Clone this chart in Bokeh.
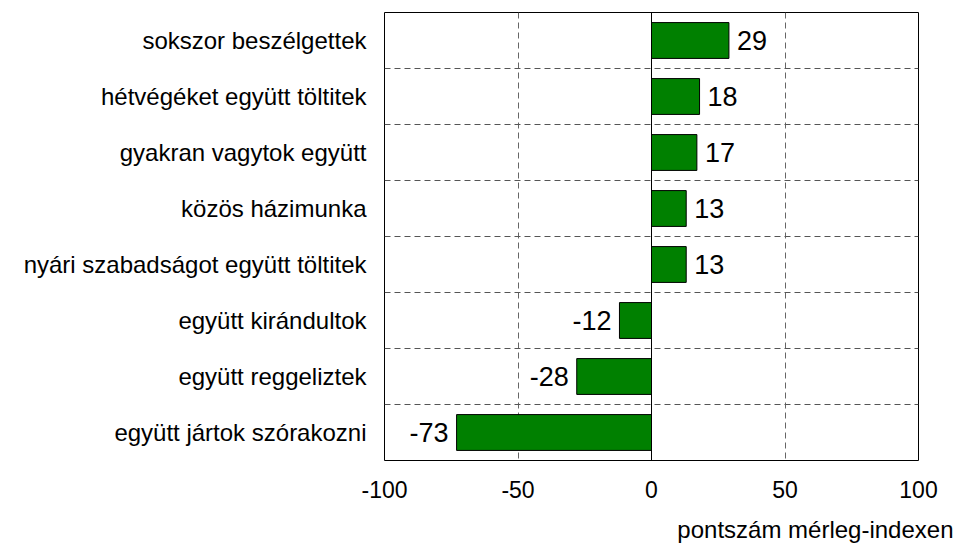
from bokeh.plotting import figure
from bokeh.models import Range1d, FixedTicker, Span, Title, ColumnDataSource
from bokeh.embed import file_html
from bokeh.resources import INLINE

categories = [
    "sokszor beszélgettek",
    "hétvégéket együtt töltitek",
    "gyakran vagytok együtt",
    "közös házimunka",
    "nyári szabadságot együtt töltitek",
    "együtt kirándultok",
    "együtt reggeliztek",
    "együtt jártok szórakozni",
]
values = [29, 18, 17, 13, 13, -12, -28, -73]
x_ticks = [-100, -50, 0, 50, 100]
x_tick_labels = ["-100", "-50", "0", "50", "100"]
axis_title = "pontszám mérleg-indexen"

FONT = "Liberation Sans"

pos = list(range(len(categories)))
src = ColumnDataSource(dict(
    y=pos, v=values, txt=[str(v) for v in values],
    align=["left" if v >= 0 else "right" for v in values],
    xoff=[8 if v >= 0 else -8 for v in values],
))

p = figure(width=958, height=555, output_backend="svg", toolbar_location=None,
           x_range=Range1d(-100, 100), y_range=Range1d(len(categories) - 0.5, -0.5),
           min_border_left=384, min_border_right=40, min_border_top=12, min_border_bottom=93)
p.outline_line_color = "black"
p.outline_line_width = 1
p.background_fill_color = "white"

p.hbar(y="y", left=0, right="v", height=0.64, source=src,
       fill_color="#008000", line_color="black", line_width=1)

p.text(x="v", y="y", text="txt", source=src, x_offset="xoff", text_align="align",
       text_baseline="middle", text_font_size="27px", text_font={"value": FONT},
       text_color="black")

p.add_layout(Span(location=0, dimension="height", line_color="black", line_width=1))

# grids
p.xgrid.ticker = FixedTicker(ticks=[-50, 50])
p.xgrid.grid_line_color = "#666666"
p.xgrid.grid_line_dash = "6 4"
p.ygrid.ticker = FixedTicker(ticks=[i + 0.5 for i in pos[:-1]])
p.ygrid.grid_line_color = "#555555"
p.ygrid.grid_line_dash = "6 4"

# x axis
p.xaxis.ticker = FixedTicker(ticks=x_ticks)
p.xaxis.major_label_overrides = {t: l for t, l in zip(x_ticks, x_tick_labels)}
p.xaxis.axis_line_color = None
p.xaxis.major_tick_line_color = None
p.xaxis.minor_tick_line_color = None
p.xaxis.major_label_text_font_size = "23px"
p.xaxis.major_label_text_font = FONT
p.xaxis.major_label_text_color = "black"
p.xaxis.major_label_standoff = 14

# y axis
p.yaxis.ticker = FixedTicker(ticks=pos)
p.yaxis.major_label_overrides = {i: c for i, c in zip(pos, categories)}
p.yaxis.axis_line_color = None
p.yaxis.major_tick_line_color = None
p.yaxis.minor_tick_line_color = None
p.yaxis.major_label_text_font_size = "24px"
p.yaxis.major_label_text_font = FONT
p.yaxis.major_label_text_color = "black"
p.yaxis.major_label_standoff = 12

t = Title(text=axis_title, align="right", offset=-35, standoff=26,
          text_line_height=0.5, vertical_align="bottom",
          text_font_size="24px", text_font=FONT, text_font_style="normal",
          text_color="black")
p.add_layout(t, "below")

open("out.html", "w").write(file_html(p, INLINE))
